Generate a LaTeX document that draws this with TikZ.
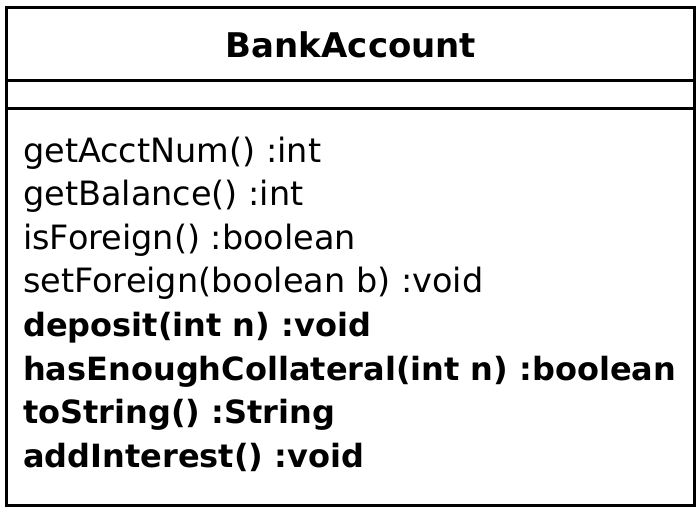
\documentclass[tikz,border=0pt]{standalone}
\usepackage{fontspec}
\setmainfont{DejaVu Sans}
\begin{document}
\begin{tikzpicture}[x=1pt,y=-1pt,
  frame/.style={draw=black,line width=3pt},
  sep/.style={draw=black,line width=3pt},
  title/.style={anchor=base,inner sep=0pt,font=\fontsize{34}{34}\selectfont\bfseries},
  op/.style={anchor=base west,inner sep=0pt,font=\fontsize{33.5}{33.5}\selectfont},
  opb/.style={anchor=base west,inner sep=0pt,font=\fontsize{32}{32}\selectfont\bfseries}]
\useasboundingbox (0,0) rectangle (700,512);
\fill[white] (0,0) rectangle (700,512);
\draw[frame] (6,7) rectangle (694,505);
\coordinate (s1l) at (6,80); \coordinate (s1r) at (694,80);
\coordinate (s2l) at (6,108); \coordinate (s2r) at (694,108);
\draw[sep] (s1l) -- (s1r);
\draw[sep] (s2l) -- (s2r);
\node[title] (t) at (351,57) {BankAccount};
\node[op] (m1) at (23,162) {getAcctNum() :int};
\node[op] (m2) at (23,205.6) {getBalance() :int};
\node[op] (m3) at (23,249.2) {isForeign() :boolean};
\node[op] (m4) at (23,292.8) {setForeign(boolean b) :void};
\node[opb] (m5) at (23,336.4) {deposit(int n) :void};
\node[opb] (m6) at (23,380) {hasEnoughCollateral(int n) :boolean};
\node[opb] (m7) at (23,423.6) {toString() :String};
\node[opb] (m8) at (23,467.2) {addInterest() :void};
\end{tikzpicture}
\end{document}
